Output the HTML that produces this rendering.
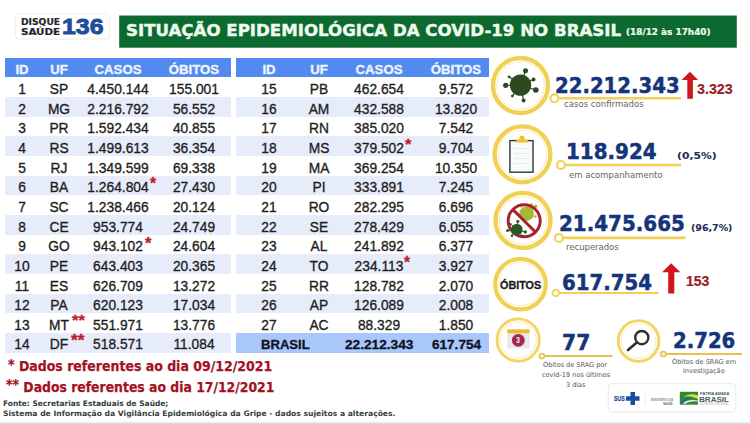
<!DOCTYPE html>
<html lang="pt-BR"><head><meta charset="utf-8"><title>Situação epidemiológica da COVID-19 no Brasil</title>
<style>
html,body{margin:0;padding:0;background:#fff;}
#w{position:relative;width:750px;height:424px;overflow:hidden;background:#fff;}
.b{position:absolute;}
.t{position:absolute;white-space:nowrap;line-height:1;}
svg{position:absolute;left:0;top:0;}
</style></head><body><div id="w">
<div class="b" style="left:5.4px;top:58.3px;width:225.80px;height:19.20px;background:#528af0"></div><div class="b" style="left:5.4px;top:97.15px;width:225.80px;height:19.65px;background:#e7ecfa"></div><div class="b" style="left:5.4px;top:136.45px;width:225.80px;height:19.65px;background:#e7ecfa"></div><div class="b" style="left:5.4px;top:175.75px;width:225.80px;height:19.65px;background:#e7ecfa"></div><div class="b" style="left:5.4px;top:215.05px;width:225.80px;height:19.65px;background:#e7ecfa"></div><div class="b" style="left:5.4px;top:254.35px;width:225.80px;height:19.65px;background:#e7ecfa"></div><div class="b" style="left:5.4px;top:293.65px;width:225.80px;height:19.65px;background:#e7ecfa"></div><div class="b" style="left:5.4px;top:332.95px;width:225.80px;height:19.65px;background:#e7ecfa"></div><div class="b" style="left:236.2px;top:58.3px;width:253.10px;height:19.20px;background:#528af0"></div><div class="b" style="left:236.2px;top:97.15px;width:253.10px;height:19.65px;background:#e7ecfa"></div><div class="b" style="left:236.2px;top:136.45px;width:253.10px;height:19.65px;background:#e7ecfa"></div><div class="b" style="left:236.2px;top:175.75px;width:253.10px;height:19.65px;background:#e7ecfa"></div><div class="b" style="left:236.2px;top:215.05px;width:253.10px;height:19.65px;background:#e7ecfa"></div><div class="b" style="left:236.2px;top:254.35px;width:253.10px;height:19.65px;background:#e7ecfa"></div><div class="b" style="left:236.2px;top:293.65px;width:253.10px;height:19.65px;background:#e7ecfa"></div><div class="b" style="left:236.2px;top:332.95px;width:253.10px;height:19.65px;background:#aac7fb"></div>
<svg width="750" height="424" viewBox="0 0 750 424"><rect x="119.2" y="15.5" width="617.6" height="32.2" fill="#0c6a30"/><rect x="15.3" y="13.9" width="94.4" height="25.2" rx="4" fill="#fff" stroke="#eee6e0" stroke-width="0.8"/><circle cx="520.5" cy="85.5" r="27.5" fill="#fff" stroke="#f2d055" stroke-width="4.4"/><circle cx="520.5" cy="85.5" r="23.699999999999996" fill="none" stroke="#f8eab0" stroke-width="0.9"/><line x1="554.4" y1="98.3" x2="681" y2="98.3" stroke="#f2d055" stroke-width="2.6"/><circle cx="554.4" cy="98.3" r="3.95" fill="#fff" stroke="#f2d055" stroke-width="2.1"/><circle cx="520.5" cy="85.1" r="10.7" fill="#2c4a1f"/><line x1="520.5" y1="85.1" x2="525.5" y2="70.7" stroke="#2c4a1f" stroke-width="1.2"/><circle cx="525.5" cy="70.7" r="2.5" fill="#2c4a1f"/><line x1="520.5" y1="85.1" x2="533.5" y2="79.6" stroke="#2c4a1f" stroke-width="1.2"/><circle cx="533.5" cy="79.6" r="2.0" fill="#2c4a1f"/><line x1="520.5" y1="85.1" x2="535.8" y2="90" stroke="#2c4a1f" stroke-width="1.2"/><circle cx="535.8" cy="90" r="2.8" fill="#2c4a1f"/><line x1="520.5" y1="85.1" x2="523.6" y2="100.4" stroke="#2c4a1f" stroke-width="1.2"/><circle cx="523.6" cy="100.4" r="2.0" fill="#2c4a1f"/><line x1="520.5" y1="85.1" x2="512.3" y2="96.1" stroke="#2c4a1f" stroke-width="1.2"/><circle cx="512.3" cy="96.1" r="1.4" fill="#2c4a1f"/><line x1="520.5" y1="85.1" x2="505.7" y2="85.3" stroke="#2c4a1f" stroke-width="1.2"/><circle cx="505.7" cy="85.3" r="2.6" fill="#2c4a1f"/><line x1="520.5" y1="85.1" x2="509" y2="76.8" stroke="#2c4a1f" stroke-width="1.2"/><circle cx="509" cy="76.8" r="1.4" fill="#2c4a1f"/><path d="M689.9 71.8 L698.1 80.0 L692.9 80.0 L692.9 98.8 L687.3 98.8 L687.3 80.0 L681.6 80.0 Z" fill="#d0151f"/><circle cx="522.5" cy="154.3" r="27.900000000000002" fill="#fff" stroke="#f2d055" stroke-width="4.4"/><circle cx="522.5" cy="154.3" r="24.1" fill="none" stroke="#f8eab0" stroke-width="0.9"/><line x1="560.9" y1="165.0" x2="681" y2="165.0" stroke="#f2d055" stroke-width="2.6"/><circle cx="560.9" cy="165.0" r="3.95" fill="#fff" stroke="#f2d055" stroke-width="2.1"/><rect x="509.9" y="140.6" width="23.1" height="31.6" fill="#f8fbf8" stroke="#2b3b31" stroke-width="1.4"/><line x1="514" y1="148.5" x2="529" y2="148.5" stroke="#e8eee8" stroke-width="1.2"/><line x1="514" y1="153.5" x2="529" y2="153.5" stroke="#e8eee8" stroke-width="1.2"/><line x1="514" y1="158.5" x2="529" y2="158.5" stroke="#e8eee8" stroke-width="1.2"/><line x1="514" y1="163.5" x2="529" y2="163.5" stroke="#e8eee8" stroke-width="1.2"/><path d="M515.6 142.6 L516.6 139.6 L527.4 139.6 L528.4 142.6 Z" fill="#f0c036"/><circle cx="522" cy="138.2" r="2.6" fill="#f0c036"/><circle cx="523" cy="220.4" r="27.5" fill="#fff" stroke="#f2d055" stroke-width="4.4"/><circle cx="523" cy="220.4" r="23.699999999999996" fill="none" stroke="#f8eab0" stroke-width="0.9"/><line x1="558.9" y1="237.9" x2="685.6" y2="237.9" stroke="#f2d055" stroke-width="2.6"/><circle cx="558.9" cy="237.9" r="3.95" fill="#fff" stroke="#f2d055" stroke-width="2.1"/><circle cx="526.6" cy="213.7" r="7.3" fill="#a6b83a"/><line x1="526.6" y1="213.7" x2="535.6" y2="206.3" stroke="#a6b83a" stroke-width="1"/><circle cx="535.6" cy="206.3" r="1.8" fill="#a6b83a"/><line x1="526.6" y1="213.7" x2="531.5" y2="204.6" stroke="#a6b83a" stroke-width="1"/><circle cx="531.5" cy="204.6" r="1.3" fill="#a6b83a"/><line x1="526.6" y1="213.7" x2="535.5" y2="216.5" stroke="#a6b83a" stroke-width="1"/><circle cx="535.5" cy="216.5" r="1.2" fill="#a6b83a"/><line x1="526.6" y1="213.7" x2="520.5" y2="206" stroke="#a6b83a" stroke-width="1"/><circle cx="520.5" cy="206" r="1.1" fill="#a6b83a"/><circle cx="524.2" cy="220.8" r="16" fill="none" stroke="#a8232d" stroke-width="3"/><line x1="512.7" y1="209.4" x2="535.6" y2="232.2" stroke="#a8232d" stroke-width="3"/><circle cx="516.8" cy="229.5" r="5.8" fill="#285826"/><line x1="516.8" y1="229.5" x2="517.9" y2="221.3" stroke="#285826" stroke-width="1"/><circle cx="517.9" cy="221.3" r="1.5" fill="#285826"/><line x1="516.8" y1="229.5" x2="525.2" y2="231.9" stroke="#285826" stroke-width="1"/><circle cx="525.2" cy="231.9" r="1.7" fill="#285826"/><line x1="516.8" y1="229.5" x2="507.6" y2="230.6" stroke="#285826" stroke-width="1"/><circle cx="507.6" cy="230.6" r="1.5" fill="#285826"/><line x1="516.8" y1="229.5" x2="512" y2="235.8" stroke="#285826" stroke-width="1"/><circle cx="512" cy="235.8" r="1.3" fill="#285826"/><line x1="516.8" y1="229.5" x2="510.5" y2="224.2" stroke="#285826" stroke-width="1"/><circle cx="510.5" cy="224.2" r="1.1" fill="#285826"/><line x1="516.8" y1="229.5" x2="522.5" y2="235.8" stroke="#285826" stroke-width="1"/><circle cx="522.5" cy="235.8" r="1.1" fill="#285826"/><circle cx="520.5" cy="284.1" r="25.299999999999997" fill="#fff" stroke="#f2d055" stroke-width="4.2"/><circle cx="520.5" cy="284.1" r="21.599999999999998" fill="none" stroke="#f8eab0" stroke-width="0.9"/><line x1="555.7" y1="292.9" x2="658.8" y2="292.9" stroke="#f2d055" stroke-width="2.0"/><circle cx="555.7" cy="292.9" r="3.3" fill="#fff" stroke="#f2d055" stroke-width="1.8"/><path d="M671.2 263.2 L680.3 272.2 L674.3 272.2 L674.3 293.4 L668.2 293.4 L668.2 272.2 L662.1 272.2 Z" fill="#d0151f"/><circle cx="518.2" cy="340.0" r="21.150000000000002" fill="#fff" stroke="#f2d566" stroke-width="2.9"/><circle cx="518.2" cy="340.0" r="18.1" fill="none" stroke="#f8eab0" stroke-width="0.9"/><line x1="542.0" y1="356.0" x2="612.5" y2="356.0" stroke="#e6c24a" stroke-width="2.0"/><circle cx="542.0" cy="356.0" r="2.6" fill="#faf3c8" stroke="#e6c24a" stroke-width="1.5"/><rect x="507.3" y="329.4" width="22.3" height="19" fill="#e8e8ef"/><rect x="507.3" y="329.4" width="22.3" height="3.9" fill="#f0b82c"/><circle cx="518.3" cy="340.3" r="6.4" fill="#a3284c"/><circle cx="638.6" cy="341.0" r="20.35" fill="#fff" stroke="#f2d566" stroke-width="2.9"/><circle cx="638.6" cy="341.0" r="17.3" fill="none" stroke="#f8eab0" stroke-width="0.9"/><line x1="663.3" y1="354.0" x2="742" y2="354.0" stroke="#e6c24a" stroke-width="2.0"/><circle cx="663.3" cy="354.0" r="2.6" fill="#faf3c8" stroke="#e6c24a" stroke-width="1.5"/><circle cx="641.8" cy="337.6" r="6.6" fill="#fff" stroke="#2f2f2f" stroke-width="2.4"/><line x1="636.8" y1="342.6" x2="628" y2="350" stroke="#2f2f2f" stroke-width="2.6" stroke-linecap="round"/><rect x="608.3" y="383.7" width="127.5" height="28.5" rx="4" fill="#fff" stroke="#e3e3e3" stroke-width="0.8"/><path d="M630.5 392 h4.5 v4.3 h4.5 v4.5 h-4.5 v4.3 h-4.5 v-4.3 h-4.6 v-4.5 h4.6 z" fill="#1c4d9e"/><line x1="645" y1="393" x2="645" y2="405" stroke="#ddd" stroke-width="0.6"/><rect x="679.8" y="391.8" width="18.2" height="12.9" fill="#2e8b35"/><path d="M683 397 Q690 392.5 698 395.5 L698 399 Q690 395 683 397 Z" fill="#e8d83a"/><path d="M681 402.5 Q687 396 694 397.5 Q688 397.5 683 403 Z" fill="#2a5aa8"/><path d="M683 403.2 Q689 398.5 698 400.5 L698 401.6 Q690 400 684.5 404 Z" fill="#f4f4f4"/><defs><linearGradient id="sh" x1="0" y1="0" x2="0" y2="1"><stop offset="0" stop-color="#fff" stop-opacity="0"/><stop offset="1" stop-color="#cdcdcd"/></linearGradient></defs><rect x="0" y="420.3" width="750" height="3.7" fill="url(#sh)"/></svg>
<div class="t" style="top:62.60px;font-size:13.6px;font-family:'Liberation Sans', sans-serif;font-weight:bold;color:#eef4fe;left:-128.50px;width:300px;text-align:center;transform:scaleX(0.97);-webkit-text-stroke:0.35px #eef4fe;">ID</div>
<div class="t" style="top:62.60px;font-size:13.6px;font-family:'Liberation Sans', sans-serif;font-weight:bold;color:#eef4fe;left:-90.70px;width:300px;text-align:center;transform:scaleX(0.97);-webkit-text-stroke:0.35px #eef4fe;">UF</div>
<div class="t" style="top:62.60px;font-size:13.6px;font-family:'Liberation Sans', sans-serif;font-weight:bold;color:#eef4fe;left:-32.30px;width:300px;text-align:center;transform:scaleX(0.97);-webkit-text-stroke:0.35px #eef4fe;">CASOS</div>
<div class="t" style="top:62.60px;font-size:13.6px;font-family:'Liberation Sans', sans-serif;font-weight:bold;color:#eef4fe;left:44.00px;width:300px;text-align:center;transform:scaleX(0.97);-webkit-text-stroke:0.35px #eef4fe;">ÓBITOS</div>
<div class="t" style="top:81.00px;font-size:15.3px;font-family:'Liberation Sans', sans-serif;font-weight:normal;color:#1e1e1e;left:-128.50px;width:300px;text-align:center;transform:scaleX(0.9);-webkit-text-stroke:0.35px #1e1e1e;">1</div>
<div class="t" style="top:81.00px;font-size:15.3px;font-family:'Liberation Sans', sans-serif;font-weight:normal;color:#1e1e1e;left:-90.70px;width:300px;text-align:center;transform:scaleX(0.9);-webkit-text-stroke:0.35px #1e1e1e;">SP</div>
<div class="t" style="top:81.00px;font-size:15.3px;font-family:'Liberation Sans', sans-serif;font-weight:normal;color:#1e1e1e;left:-32.30px;width:300px;text-align:center;transform:scaleX(0.9);-webkit-text-stroke:0.35px #1e1e1e;">4.450.144</div>
<div class="t" style="top:81.00px;font-size:15.3px;font-family:'Liberation Sans', sans-serif;font-weight:normal;color:#1e1e1e;left:44.00px;width:300px;text-align:center;transform:scaleX(0.9);-webkit-text-stroke:0.35px #1e1e1e;">155.001</div>
<div class="t" style="top:100.65px;font-size:15.3px;font-family:'Liberation Sans', sans-serif;font-weight:normal;color:#1e1e1e;left:-128.50px;width:300px;text-align:center;transform:scaleX(0.9);-webkit-text-stroke:0.35px #1e1e1e;">2</div>
<div class="t" style="top:100.65px;font-size:15.3px;font-family:'Liberation Sans', sans-serif;font-weight:normal;color:#1e1e1e;left:-90.70px;width:300px;text-align:center;transform:scaleX(0.9);-webkit-text-stroke:0.35px #1e1e1e;">MG</div>
<div class="t" style="top:100.65px;font-size:15.3px;font-family:'Liberation Sans', sans-serif;font-weight:normal;color:#1e1e1e;left:-32.30px;width:300px;text-align:center;transform:scaleX(0.9);-webkit-text-stroke:0.35px #1e1e1e;">2.216.792</div>
<div class="t" style="top:100.65px;font-size:15.3px;font-family:'Liberation Sans', sans-serif;font-weight:normal;color:#1e1e1e;left:44.00px;width:300px;text-align:center;transform:scaleX(0.9);-webkit-text-stroke:0.35px #1e1e1e;">56.552</div>
<div class="t" style="top:120.30px;font-size:15.3px;font-family:'Liberation Sans', sans-serif;font-weight:normal;color:#1e1e1e;left:-128.50px;width:300px;text-align:center;transform:scaleX(0.9);-webkit-text-stroke:0.35px #1e1e1e;">3</div>
<div class="t" style="top:120.30px;font-size:15.3px;font-family:'Liberation Sans', sans-serif;font-weight:normal;color:#1e1e1e;left:-90.70px;width:300px;text-align:center;transform:scaleX(0.9);-webkit-text-stroke:0.35px #1e1e1e;">PR</div>
<div class="t" style="top:120.30px;font-size:15.3px;font-family:'Liberation Sans', sans-serif;font-weight:normal;color:#1e1e1e;left:-32.30px;width:300px;text-align:center;transform:scaleX(0.9);-webkit-text-stroke:0.35px #1e1e1e;">1.592.434</div>
<div class="t" style="top:120.30px;font-size:15.3px;font-family:'Liberation Sans', sans-serif;font-weight:normal;color:#1e1e1e;left:44.00px;width:300px;text-align:center;transform:scaleX(0.9);-webkit-text-stroke:0.35px #1e1e1e;">40.855</div>
<div class="t" style="top:139.95px;font-size:15.3px;font-family:'Liberation Sans', sans-serif;font-weight:normal;color:#1e1e1e;left:-128.50px;width:300px;text-align:center;transform:scaleX(0.9);-webkit-text-stroke:0.35px #1e1e1e;">4</div>
<div class="t" style="top:139.95px;font-size:15.3px;font-family:'Liberation Sans', sans-serif;font-weight:normal;color:#1e1e1e;left:-90.70px;width:300px;text-align:center;transform:scaleX(0.9);-webkit-text-stroke:0.35px #1e1e1e;">RS</div>
<div class="t" style="top:139.95px;font-size:15.3px;font-family:'Liberation Sans', sans-serif;font-weight:normal;color:#1e1e1e;left:-32.30px;width:300px;text-align:center;transform:scaleX(0.9);-webkit-text-stroke:0.35px #1e1e1e;">1.499.613</div>
<div class="t" style="top:139.95px;font-size:15.3px;font-family:'Liberation Sans', sans-serif;font-weight:normal;color:#1e1e1e;left:44.00px;width:300px;text-align:center;transform:scaleX(0.9);-webkit-text-stroke:0.35px #1e1e1e;">36.354</div>
<div class="t" style="top:159.60px;font-size:15.3px;font-family:'Liberation Sans', sans-serif;font-weight:normal;color:#1e1e1e;left:-128.50px;width:300px;text-align:center;transform:scaleX(0.9);-webkit-text-stroke:0.35px #1e1e1e;">5</div>
<div class="t" style="top:159.60px;font-size:15.3px;font-family:'Liberation Sans', sans-serif;font-weight:normal;color:#1e1e1e;left:-90.70px;width:300px;text-align:center;transform:scaleX(0.9);-webkit-text-stroke:0.35px #1e1e1e;">RJ</div>
<div class="t" style="top:159.60px;font-size:15.3px;font-family:'Liberation Sans', sans-serif;font-weight:normal;color:#1e1e1e;left:-32.30px;width:300px;text-align:center;transform:scaleX(0.9);-webkit-text-stroke:0.35px #1e1e1e;">1.349.599</div>
<div class="t" style="top:159.60px;font-size:15.3px;font-family:'Liberation Sans', sans-serif;font-weight:normal;color:#1e1e1e;left:44.00px;width:300px;text-align:center;transform:scaleX(0.9);-webkit-text-stroke:0.35px #1e1e1e;">69.338</div>
<div class="t" style="top:179.25px;font-size:15.3px;font-family:'Liberation Sans', sans-serif;font-weight:normal;color:#1e1e1e;left:-128.50px;width:300px;text-align:center;transform:scaleX(0.9);-webkit-text-stroke:0.35px #1e1e1e;">6</div>
<div class="t" style="top:179.25px;font-size:15.3px;font-family:'Liberation Sans', sans-serif;font-weight:normal;color:#1e1e1e;left:-90.70px;width:300px;text-align:center;transform:scaleX(0.9);-webkit-text-stroke:0.35px #1e1e1e;">BA</div>
<div class="t" style="top:179.25px;font-size:15.3px;font-family:'Liberation Sans', sans-serif;font-weight:normal;color:#1e1e1e;left:-32.30px;width:300px;text-align:center;transform:scaleX(0.9);-webkit-text-stroke:0.35px #1e1e1e;">1.264.804</div>
<div class="t" style="top:179.25px;font-size:15.3px;font-family:'Liberation Sans', sans-serif;font-weight:normal;color:#1e1e1e;left:44.00px;width:300px;text-align:center;transform:scaleX(0.9);-webkit-text-stroke:0.35px #1e1e1e;">27.430</div>
<div class="t" style="top:198.90px;font-size:15.3px;font-family:'Liberation Sans', sans-serif;font-weight:normal;color:#1e1e1e;left:-128.50px;width:300px;text-align:center;transform:scaleX(0.9);-webkit-text-stroke:0.35px #1e1e1e;">7</div>
<div class="t" style="top:198.90px;font-size:15.3px;font-family:'Liberation Sans', sans-serif;font-weight:normal;color:#1e1e1e;left:-90.70px;width:300px;text-align:center;transform:scaleX(0.9);-webkit-text-stroke:0.35px #1e1e1e;">SC</div>
<div class="t" style="top:198.90px;font-size:15.3px;font-family:'Liberation Sans', sans-serif;font-weight:normal;color:#1e1e1e;left:-32.30px;width:300px;text-align:center;transform:scaleX(0.9);-webkit-text-stroke:0.35px #1e1e1e;">1.238.466</div>
<div class="t" style="top:198.90px;font-size:15.3px;font-family:'Liberation Sans', sans-serif;font-weight:normal;color:#1e1e1e;left:44.00px;width:300px;text-align:center;transform:scaleX(0.9);-webkit-text-stroke:0.35px #1e1e1e;">20.124</div>
<div class="t" style="top:218.55px;font-size:15.3px;font-family:'Liberation Sans', sans-serif;font-weight:normal;color:#1e1e1e;left:-128.50px;width:300px;text-align:center;transform:scaleX(0.9);-webkit-text-stroke:0.35px #1e1e1e;">8</div>
<div class="t" style="top:218.55px;font-size:15.3px;font-family:'Liberation Sans', sans-serif;font-weight:normal;color:#1e1e1e;left:-90.70px;width:300px;text-align:center;transform:scaleX(0.9);-webkit-text-stroke:0.35px #1e1e1e;">CE</div>
<div class="t" style="top:218.55px;font-size:15.3px;font-family:'Liberation Sans', sans-serif;font-weight:normal;color:#1e1e1e;left:-32.30px;width:300px;text-align:center;transform:scaleX(0.9);-webkit-text-stroke:0.35px #1e1e1e;">953.774</div>
<div class="t" style="top:218.55px;font-size:15.3px;font-family:'Liberation Sans', sans-serif;font-weight:normal;color:#1e1e1e;left:44.00px;width:300px;text-align:center;transform:scaleX(0.9);-webkit-text-stroke:0.35px #1e1e1e;">24.749</div>
<div class="t" style="top:238.20px;font-size:15.3px;font-family:'Liberation Sans', sans-serif;font-weight:normal;color:#1e1e1e;left:-128.50px;width:300px;text-align:center;transform:scaleX(0.9);-webkit-text-stroke:0.35px #1e1e1e;">9</div>
<div class="t" style="top:238.20px;font-size:15.3px;font-family:'Liberation Sans', sans-serif;font-weight:normal;color:#1e1e1e;left:-90.70px;width:300px;text-align:center;transform:scaleX(0.9);-webkit-text-stroke:0.35px #1e1e1e;">GO</div>
<div class="t" style="top:238.20px;font-size:15.3px;font-family:'Liberation Sans', sans-serif;font-weight:normal;color:#1e1e1e;left:-32.30px;width:300px;text-align:center;transform:scaleX(0.9);-webkit-text-stroke:0.35px #1e1e1e;">943.102</div>
<div class="t" style="top:238.20px;font-size:15.3px;font-family:'Liberation Sans', sans-serif;font-weight:normal;color:#1e1e1e;left:44.00px;width:300px;text-align:center;transform:scaleX(0.9);-webkit-text-stroke:0.35px #1e1e1e;">24.604</div>
<div class="t" style="top:257.85px;font-size:15.3px;font-family:'Liberation Sans', sans-serif;font-weight:normal;color:#1e1e1e;left:-128.50px;width:300px;text-align:center;transform:scaleX(0.9);-webkit-text-stroke:0.35px #1e1e1e;">10</div>
<div class="t" style="top:257.85px;font-size:15.3px;font-family:'Liberation Sans', sans-serif;font-weight:normal;color:#1e1e1e;left:-90.70px;width:300px;text-align:center;transform:scaleX(0.9);-webkit-text-stroke:0.35px #1e1e1e;">PE</div>
<div class="t" style="top:257.85px;font-size:15.3px;font-family:'Liberation Sans', sans-serif;font-weight:normal;color:#1e1e1e;left:-32.30px;width:300px;text-align:center;transform:scaleX(0.9);-webkit-text-stroke:0.35px #1e1e1e;">643.403</div>
<div class="t" style="top:257.85px;font-size:15.3px;font-family:'Liberation Sans', sans-serif;font-weight:normal;color:#1e1e1e;left:44.00px;width:300px;text-align:center;transform:scaleX(0.9);-webkit-text-stroke:0.35px #1e1e1e;">20.365</div>
<div class="t" style="top:277.50px;font-size:15.3px;font-family:'Liberation Sans', sans-serif;font-weight:normal;color:#1e1e1e;left:-128.50px;width:300px;text-align:center;transform:scaleX(0.9);-webkit-text-stroke:0.35px #1e1e1e;">11</div>
<div class="t" style="top:277.50px;font-size:15.3px;font-family:'Liberation Sans', sans-serif;font-weight:normal;color:#1e1e1e;left:-90.70px;width:300px;text-align:center;transform:scaleX(0.9);-webkit-text-stroke:0.35px #1e1e1e;">ES</div>
<div class="t" style="top:277.50px;font-size:15.3px;font-family:'Liberation Sans', sans-serif;font-weight:normal;color:#1e1e1e;left:-32.30px;width:300px;text-align:center;transform:scaleX(0.9);-webkit-text-stroke:0.35px #1e1e1e;">626.709</div>
<div class="t" style="top:277.50px;font-size:15.3px;font-family:'Liberation Sans', sans-serif;font-weight:normal;color:#1e1e1e;left:44.00px;width:300px;text-align:center;transform:scaleX(0.9);-webkit-text-stroke:0.35px #1e1e1e;">13.272</div>
<div class="t" style="top:297.15px;font-size:15.3px;font-family:'Liberation Sans', sans-serif;font-weight:normal;color:#1e1e1e;left:-128.50px;width:300px;text-align:center;transform:scaleX(0.9);-webkit-text-stroke:0.35px #1e1e1e;">12</div>
<div class="t" style="top:297.15px;font-size:15.3px;font-family:'Liberation Sans', sans-serif;font-weight:normal;color:#1e1e1e;left:-90.70px;width:300px;text-align:center;transform:scaleX(0.9);-webkit-text-stroke:0.35px #1e1e1e;">PA</div>
<div class="t" style="top:297.15px;font-size:15.3px;font-family:'Liberation Sans', sans-serif;font-weight:normal;color:#1e1e1e;left:-32.30px;width:300px;text-align:center;transform:scaleX(0.9);-webkit-text-stroke:0.35px #1e1e1e;">620.123</div>
<div class="t" style="top:297.15px;font-size:15.3px;font-family:'Liberation Sans', sans-serif;font-weight:normal;color:#1e1e1e;left:44.00px;width:300px;text-align:center;transform:scaleX(0.9);-webkit-text-stroke:0.35px #1e1e1e;">17.034</div>
<div class="t" style="top:316.80px;font-size:15.3px;font-family:'Liberation Sans', sans-serif;font-weight:normal;color:#1e1e1e;left:-128.50px;width:300px;text-align:center;transform:scaleX(0.9);-webkit-text-stroke:0.35px #1e1e1e;">13</div>
<div class="t" style="top:316.80px;font-size:15.3px;font-family:'Liberation Sans', sans-serif;font-weight:normal;color:#1e1e1e;left:-90.70px;width:300px;text-align:center;transform:scaleX(0.9);-webkit-text-stroke:0.35px #1e1e1e;">MT</div>
<div class="t" style="top:316.80px;font-size:15.3px;font-family:'Liberation Sans', sans-serif;font-weight:normal;color:#1e1e1e;left:-32.30px;width:300px;text-align:center;transform:scaleX(0.9);-webkit-text-stroke:0.35px #1e1e1e;">551.971</div>
<div class="t" style="top:316.80px;font-size:15.3px;font-family:'Liberation Sans', sans-serif;font-weight:normal;color:#1e1e1e;left:44.00px;width:300px;text-align:center;transform:scaleX(0.9);-webkit-text-stroke:0.35px #1e1e1e;">13.776</div>
<div class="t" style="top:336.45px;font-size:15.3px;font-family:'Liberation Sans', sans-serif;font-weight:normal;color:#1e1e1e;left:-128.50px;width:300px;text-align:center;transform:scaleX(0.9);-webkit-text-stroke:0.35px #1e1e1e;">14</div>
<div class="t" style="top:336.45px;font-size:15.3px;font-family:'Liberation Sans', sans-serif;font-weight:normal;color:#1e1e1e;left:-90.70px;width:300px;text-align:center;transform:scaleX(0.9);-webkit-text-stroke:0.35px #1e1e1e;">DF</div>
<div class="t" style="top:336.45px;font-size:15.3px;font-family:'Liberation Sans', sans-serif;font-weight:normal;color:#1e1e1e;left:-32.30px;width:300px;text-align:center;transform:scaleX(0.9);-webkit-text-stroke:0.35px #1e1e1e;">518.571</div>
<div class="t" style="top:336.45px;font-size:15.3px;font-family:'Liberation Sans', sans-serif;font-weight:normal;color:#1e1e1e;left:44.00px;width:300px;text-align:center;transform:scaleX(0.9);-webkit-text-stroke:0.35px #1e1e1e;">11.084</div>
<div class="t" style="top:62.60px;font-size:13.6px;font-family:'Liberation Sans', sans-serif;font-weight:bold;color:#eef4fe;left:119.00px;width:300px;text-align:center;transform:scaleX(0.97);-webkit-text-stroke:0.35px #eef4fe;">ID</div>
<div class="t" style="top:62.60px;font-size:13.6px;font-family:'Liberation Sans', sans-serif;font-weight:bold;color:#eef4fe;left:168.80px;width:300px;text-align:center;transform:scaleX(0.97);-webkit-text-stroke:0.35px #eef4fe;">UF</div>
<div class="t" style="top:62.60px;font-size:13.6px;font-family:'Liberation Sans', sans-serif;font-weight:bold;color:#eef4fe;left:229.00px;width:300px;text-align:center;transform:scaleX(0.97);-webkit-text-stroke:0.35px #eef4fe;">CASOS</div>
<div class="t" style="top:62.60px;font-size:13.6px;font-family:'Liberation Sans', sans-serif;font-weight:bold;color:#eef4fe;left:306.00px;width:300px;text-align:center;transform:scaleX(0.97);-webkit-text-stroke:0.35px #eef4fe;">ÓBITOS</div>
<div class="t" style="top:81.00px;font-size:15.3px;font-family:'Liberation Sans', sans-serif;font-weight:normal;color:#1e1e1e;left:119.00px;width:300px;text-align:center;transform:scaleX(0.9);-webkit-text-stroke:0.35px #1e1e1e;">15</div>
<div class="t" style="top:81.00px;font-size:15.3px;font-family:'Liberation Sans', sans-serif;font-weight:normal;color:#1e1e1e;left:168.80px;width:300px;text-align:center;transform:scaleX(0.9);-webkit-text-stroke:0.35px #1e1e1e;">PB</div>
<div class="t" style="top:81.00px;font-size:15.3px;font-family:'Liberation Sans', sans-serif;font-weight:normal;color:#1e1e1e;left:229.00px;width:300px;text-align:center;transform:scaleX(0.9);-webkit-text-stroke:0.35px #1e1e1e;">462.654</div>
<div class="t" style="top:81.00px;font-size:15.3px;font-family:'Liberation Sans', sans-serif;font-weight:normal;color:#1e1e1e;left:306.00px;width:300px;text-align:center;transform:scaleX(0.9);-webkit-text-stroke:0.35px #1e1e1e;">9.572</div>
<div class="t" style="top:100.65px;font-size:15.3px;font-family:'Liberation Sans', sans-serif;font-weight:normal;color:#1e1e1e;left:119.00px;width:300px;text-align:center;transform:scaleX(0.9);-webkit-text-stroke:0.35px #1e1e1e;">16</div>
<div class="t" style="top:100.65px;font-size:15.3px;font-family:'Liberation Sans', sans-serif;font-weight:normal;color:#1e1e1e;left:168.80px;width:300px;text-align:center;transform:scaleX(0.9);-webkit-text-stroke:0.35px #1e1e1e;">AM</div>
<div class="t" style="top:100.65px;font-size:15.3px;font-family:'Liberation Sans', sans-serif;font-weight:normal;color:#1e1e1e;left:229.00px;width:300px;text-align:center;transform:scaleX(0.9);-webkit-text-stroke:0.35px #1e1e1e;">432.588</div>
<div class="t" style="top:100.65px;font-size:15.3px;font-family:'Liberation Sans', sans-serif;font-weight:normal;color:#1e1e1e;left:306.00px;width:300px;text-align:center;transform:scaleX(0.9);-webkit-text-stroke:0.35px #1e1e1e;">13.820</div>
<div class="t" style="top:120.30px;font-size:15.3px;font-family:'Liberation Sans', sans-serif;font-weight:normal;color:#1e1e1e;left:119.00px;width:300px;text-align:center;transform:scaleX(0.9);-webkit-text-stroke:0.35px #1e1e1e;">17</div>
<div class="t" style="top:120.30px;font-size:15.3px;font-family:'Liberation Sans', sans-serif;font-weight:normal;color:#1e1e1e;left:168.80px;width:300px;text-align:center;transform:scaleX(0.9);-webkit-text-stroke:0.35px #1e1e1e;">RN</div>
<div class="t" style="top:120.30px;font-size:15.3px;font-family:'Liberation Sans', sans-serif;font-weight:normal;color:#1e1e1e;left:229.00px;width:300px;text-align:center;transform:scaleX(0.9);-webkit-text-stroke:0.35px #1e1e1e;">385.020</div>
<div class="t" style="top:120.30px;font-size:15.3px;font-family:'Liberation Sans', sans-serif;font-weight:normal;color:#1e1e1e;left:306.00px;width:300px;text-align:center;transform:scaleX(0.9);-webkit-text-stroke:0.35px #1e1e1e;">7.542</div>
<div class="t" style="top:139.95px;font-size:15.3px;font-family:'Liberation Sans', sans-serif;font-weight:normal;color:#1e1e1e;left:119.00px;width:300px;text-align:center;transform:scaleX(0.9);-webkit-text-stroke:0.35px #1e1e1e;">18</div>
<div class="t" style="top:139.95px;font-size:15.3px;font-family:'Liberation Sans', sans-serif;font-weight:normal;color:#1e1e1e;left:168.80px;width:300px;text-align:center;transform:scaleX(0.9);-webkit-text-stroke:0.35px #1e1e1e;">MS</div>
<div class="t" style="top:139.95px;font-size:15.3px;font-family:'Liberation Sans', sans-serif;font-weight:normal;color:#1e1e1e;left:229.00px;width:300px;text-align:center;transform:scaleX(0.9);-webkit-text-stroke:0.35px #1e1e1e;">379.502</div>
<div class="t" style="top:139.95px;font-size:15.3px;font-family:'Liberation Sans', sans-serif;font-weight:normal;color:#1e1e1e;left:306.00px;width:300px;text-align:center;transform:scaleX(0.9);-webkit-text-stroke:0.35px #1e1e1e;">9.704</div>
<div class="t" style="top:159.60px;font-size:15.3px;font-family:'Liberation Sans', sans-serif;font-weight:normal;color:#1e1e1e;left:119.00px;width:300px;text-align:center;transform:scaleX(0.9);-webkit-text-stroke:0.35px #1e1e1e;">19</div>
<div class="t" style="top:159.60px;font-size:15.3px;font-family:'Liberation Sans', sans-serif;font-weight:normal;color:#1e1e1e;left:168.80px;width:300px;text-align:center;transform:scaleX(0.9);-webkit-text-stroke:0.35px #1e1e1e;">MA</div>
<div class="t" style="top:159.60px;font-size:15.3px;font-family:'Liberation Sans', sans-serif;font-weight:normal;color:#1e1e1e;left:229.00px;width:300px;text-align:center;transform:scaleX(0.9);-webkit-text-stroke:0.35px #1e1e1e;">369.254</div>
<div class="t" style="top:159.60px;font-size:15.3px;font-family:'Liberation Sans', sans-serif;font-weight:normal;color:#1e1e1e;left:306.00px;width:300px;text-align:center;transform:scaleX(0.9);-webkit-text-stroke:0.35px #1e1e1e;">10.350</div>
<div class="t" style="top:179.25px;font-size:15.3px;font-family:'Liberation Sans', sans-serif;font-weight:normal;color:#1e1e1e;left:119.00px;width:300px;text-align:center;transform:scaleX(0.9);-webkit-text-stroke:0.35px #1e1e1e;">20</div>
<div class="t" style="top:179.25px;font-size:15.3px;font-family:'Liberation Sans', sans-serif;font-weight:normal;color:#1e1e1e;left:168.80px;width:300px;text-align:center;transform:scaleX(0.9);-webkit-text-stroke:0.35px #1e1e1e;">PI</div>
<div class="t" style="top:179.25px;font-size:15.3px;font-family:'Liberation Sans', sans-serif;font-weight:normal;color:#1e1e1e;left:229.00px;width:300px;text-align:center;transform:scaleX(0.9);-webkit-text-stroke:0.35px #1e1e1e;">333.891</div>
<div class="t" style="top:179.25px;font-size:15.3px;font-family:'Liberation Sans', sans-serif;font-weight:normal;color:#1e1e1e;left:306.00px;width:300px;text-align:center;transform:scaleX(0.9);-webkit-text-stroke:0.35px #1e1e1e;">7.245</div>
<div class="t" style="top:198.90px;font-size:15.3px;font-family:'Liberation Sans', sans-serif;font-weight:normal;color:#1e1e1e;left:119.00px;width:300px;text-align:center;transform:scaleX(0.9);-webkit-text-stroke:0.35px #1e1e1e;">21</div>
<div class="t" style="top:198.90px;font-size:15.3px;font-family:'Liberation Sans', sans-serif;font-weight:normal;color:#1e1e1e;left:168.80px;width:300px;text-align:center;transform:scaleX(0.9);-webkit-text-stroke:0.35px #1e1e1e;">RO</div>
<div class="t" style="top:198.90px;font-size:15.3px;font-family:'Liberation Sans', sans-serif;font-weight:normal;color:#1e1e1e;left:229.00px;width:300px;text-align:center;transform:scaleX(0.9);-webkit-text-stroke:0.35px #1e1e1e;">282.295</div>
<div class="t" style="top:198.90px;font-size:15.3px;font-family:'Liberation Sans', sans-serif;font-weight:normal;color:#1e1e1e;left:306.00px;width:300px;text-align:center;transform:scaleX(0.9);-webkit-text-stroke:0.35px #1e1e1e;">6.696</div>
<div class="t" style="top:218.55px;font-size:15.3px;font-family:'Liberation Sans', sans-serif;font-weight:normal;color:#1e1e1e;left:119.00px;width:300px;text-align:center;transform:scaleX(0.9);-webkit-text-stroke:0.35px #1e1e1e;">22</div>
<div class="t" style="top:218.55px;font-size:15.3px;font-family:'Liberation Sans', sans-serif;font-weight:normal;color:#1e1e1e;left:168.80px;width:300px;text-align:center;transform:scaleX(0.9);-webkit-text-stroke:0.35px #1e1e1e;">SE</div>
<div class="t" style="top:218.55px;font-size:15.3px;font-family:'Liberation Sans', sans-serif;font-weight:normal;color:#1e1e1e;left:229.00px;width:300px;text-align:center;transform:scaleX(0.9);-webkit-text-stroke:0.35px #1e1e1e;">278.429</div>
<div class="t" style="top:218.55px;font-size:15.3px;font-family:'Liberation Sans', sans-serif;font-weight:normal;color:#1e1e1e;left:306.00px;width:300px;text-align:center;transform:scaleX(0.9);-webkit-text-stroke:0.35px #1e1e1e;">6.055</div>
<div class="t" style="top:238.20px;font-size:15.3px;font-family:'Liberation Sans', sans-serif;font-weight:normal;color:#1e1e1e;left:119.00px;width:300px;text-align:center;transform:scaleX(0.9);-webkit-text-stroke:0.35px #1e1e1e;">23</div>
<div class="t" style="top:238.20px;font-size:15.3px;font-family:'Liberation Sans', sans-serif;font-weight:normal;color:#1e1e1e;left:168.80px;width:300px;text-align:center;transform:scaleX(0.9);-webkit-text-stroke:0.35px #1e1e1e;">AL</div>
<div class="t" style="top:238.20px;font-size:15.3px;font-family:'Liberation Sans', sans-serif;font-weight:normal;color:#1e1e1e;left:229.00px;width:300px;text-align:center;transform:scaleX(0.9);-webkit-text-stroke:0.35px #1e1e1e;">241.892</div>
<div class="t" style="top:238.20px;font-size:15.3px;font-family:'Liberation Sans', sans-serif;font-weight:normal;color:#1e1e1e;left:306.00px;width:300px;text-align:center;transform:scaleX(0.9);-webkit-text-stroke:0.35px #1e1e1e;">6.377</div>
<div class="t" style="top:257.85px;font-size:15.3px;font-family:'Liberation Sans', sans-serif;font-weight:normal;color:#1e1e1e;left:119.00px;width:300px;text-align:center;transform:scaleX(0.9);-webkit-text-stroke:0.35px #1e1e1e;">24</div>
<div class="t" style="top:257.85px;font-size:15.3px;font-family:'Liberation Sans', sans-serif;font-weight:normal;color:#1e1e1e;left:168.80px;width:300px;text-align:center;transform:scaleX(0.9);-webkit-text-stroke:0.35px #1e1e1e;">TO</div>
<div class="t" style="top:257.85px;font-size:15.3px;font-family:'Liberation Sans', sans-serif;font-weight:normal;color:#1e1e1e;left:229.00px;width:300px;text-align:center;transform:scaleX(0.9);-webkit-text-stroke:0.35px #1e1e1e;">234.113</div>
<div class="t" style="top:257.85px;font-size:15.3px;font-family:'Liberation Sans', sans-serif;font-weight:normal;color:#1e1e1e;left:306.00px;width:300px;text-align:center;transform:scaleX(0.9);-webkit-text-stroke:0.35px #1e1e1e;">3.927</div>
<div class="t" style="top:277.50px;font-size:15.3px;font-family:'Liberation Sans', sans-serif;font-weight:normal;color:#1e1e1e;left:119.00px;width:300px;text-align:center;transform:scaleX(0.9);-webkit-text-stroke:0.35px #1e1e1e;">25</div>
<div class="t" style="top:277.50px;font-size:15.3px;font-family:'Liberation Sans', sans-serif;font-weight:normal;color:#1e1e1e;left:168.80px;width:300px;text-align:center;transform:scaleX(0.9);-webkit-text-stroke:0.35px #1e1e1e;">RR</div>
<div class="t" style="top:277.50px;font-size:15.3px;font-family:'Liberation Sans', sans-serif;font-weight:normal;color:#1e1e1e;left:229.00px;width:300px;text-align:center;transform:scaleX(0.9);-webkit-text-stroke:0.35px #1e1e1e;">128.782</div>
<div class="t" style="top:277.50px;font-size:15.3px;font-family:'Liberation Sans', sans-serif;font-weight:normal;color:#1e1e1e;left:306.00px;width:300px;text-align:center;transform:scaleX(0.9);-webkit-text-stroke:0.35px #1e1e1e;">2.070</div>
<div class="t" style="top:297.15px;font-size:15.3px;font-family:'Liberation Sans', sans-serif;font-weight:normal;color:#1e1e1e;left:119.00px;width:300px;text-align:center;transform:scaleX(0.9);-webkit-text-stroke:0.35px #1e1e1e;">26</div>
<div class="t" style="top:297.15px;font-size:15.3px;font-family:'Liberation Sans', sans-serif;font-weight:normal;color:#1e1e1e;left:168.80px;width:300px;text-align:center;transform:scaleX(0.9);-webkit-text-stroke:0.35px #1e1e1e;">AP</div>
<div class="t" style="top:297.15px;font-size:15.3px;font-family:'Liberation Sans', sans-serif;font-weight:normal;color:#1e1e1e;left:229.00px;width:300px;text-align:center;transform:scaleX(0.9);-webkit-text-stroke:0.35px #1e1e1e;">126.089</div>
<div class="t" style="top:297.15px;font-size:15.3px;font-family:'Liberation Sans', sans-serif;font-weight:normal;color:#1e1e1e;left:306.00px;width:300px;text-align:center;transform:scaleX(0.9);-webkit-text-stroke:0.35px #1e1e1e;">2.008</div>
<div class="t" style="top:316.80px;font-size:15.3px;font-family:'Liberation Sans', sans-serif;font-weight:normal;color:#1e1e1e;left:119.00px;width:300px;text-align:center;transform:scaleX(0.9);-webkit-text-stroke:0.35px #1e1e1e;">27</div>
<div class="t" style="top:316.80px;font-size:15.3px;font-family:'Liberation Sans', sans-serif;font-weight:normal;color:#1e1e1e;left:168.80px;width:300px;text-align:center;transform:scaleX(0.9);-webkit-text-stroke:0.35px #1e1e1e;">AC</div>
<div class="t" style="top:316.80px;font-size:15.3px;font-family:'Liberation Sans', sans-serif;font-weight:normal;color:#1e1e1e;left:229.00px;width:300px;text-align:center;transform:scaleX(0.9);-webkit-text-stroke:0.35px #1e1e1e;">88.329</div>
<div class="t" style="top:316.80px;font-size:15.3px;font-family:'Liberation Sans', sans-serif;font-weight:normal;color:#1e1e1e;left:306.00px;width:300px;text-align:center;transform:scaleX(0.9);-webkit-text-stroke:0.35px #1e1e1e;">1.850</div>
<div class="t" style="left:149.85px;top:174.72px;font-size:16.38px;font-family:'Liberation Sans', sans-serif;font-weight:bold;color:#c0192e;transform:scaleX(0.9531);transform-origin:0 50%;-webkit-text-stroke:0.3px #c0192e;">*</div>
<div class="t" style="left:144.55px;top:234.84px;font-size:17.41px;font-family:'Liberation Sans', sans-serif;font-weight:bold;color:#c0192e;transform:scaleX(0.9559);transform-origin:0 50%;-webkit-text-stroke:0.3px #c0192e;">*</div>
<div class="t" style="left:405.35px;top:136.00px;font-size:15.36px;font-family:'Liberation Sans', sans-serif;font-weight:bold;color:#c0192e;transform:scaleX(1.0667);transform-origin:0 50%;-webkit-text-stroke:0.3px #c0192e;">*</div>
<div class="t" style="left:403.85px;top:254.76px;font-size:15.87px;font-family:'Liberation Sans', sans-serif;font-weight:bold;color:#c0192e;transform:scaleX(0.9677);transform-origin:0 50%;-webkit-text-stroke:0.3px #c0192e;">*</div>
<div class="t" style="left:71.95px;top:311.82px;font-size:15.10px;font-family:'Liberation Sans', sans-serif;font-weight:bold;color:#c0192e;transform:scaleX(1.1038);transform-origin:0 50%;-webkit-text-stroke:0.3px #c0192e;">**</div>
<div class="t" style="left:70.95px;top:332.76px;font-size:15.87px;font-family:'Liberation Sans', sans-serif;font-weight:bold;color:#c0192e;transform:scaleX(1.0908);transform-origin:0 50%;-webkit-text-stroke:0.3px #c0192e;">**</div>
<div class="t" style="left:261.03px;top:337.80px;font-size:13.37px;font-family:'Liberation Sans', sans-serif;font-weight:bold;color:#0e1122;transform:scaleX(0.9795);transform-origin:0 50%;-webkit-text-stroke:0.3px #0e1122;">BRASIL</div>
<div class="t" style="left:344.72px;top:338.00px;font-size:13.37px;font-family:'Liberation Sans', sans-serif;font-weight:bold;color:#0e1122;transform:scaleX(1.0233);transform-origin:0 50%;-webkit-text-stroke:0.3px #0e1122;">22.212.343</div>
<div class="t" style="left:431.73px;top:338.00px;font-size:13.37px;font-family:'Liberation Sans', sans-serif;font-weight:bold;color:#0e1122;transform:scaleX(1.0147);transform-origin:0 50%;-webkit-text-stroke:0.3px #0e1122;">617.754</div>
<div class="t" style="left:126.26px;top:22.80px;font-size:15.87px;font-family:'DejaVu Sans', sans-serif;font-weight:bold;color:#eefbee;transform:scaleX(1.0482);transform-origin:0 50%;-webkit-text-stroke:0.4px #eefbee;">SITUAÇÃO EPIDEMIOLÓGICA DA COVID-19 NO BRASIL</div>
<div class="t" style="left:626.31px;top:28.20px;font-size:8.17px;font-family:'DejaVu Sans', sans-serif;font-weight:bold;color:#eefbee;transform:scaleX(1.0888);transform-origin:0 50%;-webkit-text-stroke:0.2px #eefbee;">(18/12 às 17h40)</div>
<div class="t" style="left:20.58px;top:17.80px;font-size:8.93px;font-family:'DejaVu Sans', sans-serif;font-weight:bold;color:#262626;transform:scaleX(1.0269);transform-origin:0 50%;-webkit-text-stroke:0.2px #262626;">DISQUE</div>
<div class="t" style="left:20.65px;top:26.60px;font-size:9.33px;font-family:'DejaVu Sans', sans-serif;font-weight:bold;color:#262626;transform:scaleX(1.1071);transform-origin:0 50%;-webkit-text-stroke:0.2px #262626;">SAÚDE</div>
<div class="t" style="left:61.80px;top:16.40px;font-size:22.61px;font-family:'Liberation Sans', sans-serif;font-weight:bold;color:#1d4e9b;transform:scaleX(1.0992);transform-origin:0 50%;-webkit-text-stroke:0.9px #1d4e9b;">136</div>
<div class="t" style="left:8.11px;top:359.00px;font-size:14.43px;font-family:'DejaVu Sans Condensed', 'DejaVu Sans', sans-serif;font-weight:bold;color:#a3121f;transform:scaleX(0.9657);transform-origin:0 50%;-webkit-text-stroke:0.25px #a3121f;"><span style="position:relative;top:-2.2px;line-height:0">*</span> Dados referentes ao dia 09/12/2021</div>
<div class="t" style="left:6.41px;top:379.60px;font-size:14.84px;font-family:'DejaVu Sans Condensed', 'DejaVu Sans', sans-serif;font-weight:bold;color:#a3121f;transform:scaleX(0.9313);transform-origin:0 50%;-webkit-text-stroke:0.25px #a3121f;"><span style="position:relative;top:-2.6px;line-height:0">**</span> Dados referentes ao dia 17/12/2021</div>
<div class="t" style="left:3.02px;top:400.10px;font-size:7.60px;font-family:'DejaVu Sans', sans-serif;font-weight:bold;color:#33413a;transform:scaleX(0.9816);transform-origin:0 50%;">Fonte: Secretarias Estaduais de Saúde;</div>
<div class="t" style="left:3.12px;top:410.20px;font-size:7.47px;font-family:'DejaVu Sans', sans-serif;font-weight:bold;color:#33413a;transform:scaleX(1.0193);transform-origin:0 50%;">Sistema de Informação da Vigilância Epidemiológica da Gripe - dados sujeitos a alterações.</div>
<div class="t" style="left:554.81px;top:74.60px;font-size:21.38px;font-family:'DejaVu Sans', sans-serif;font-weight:bold;color:#15357a;transform:scaleX(0.9215);transform-origin:0 50%;-webkit-text-stroke:0.5px #15357a;">22.212.343</div>
<div class="t" style="left:564.30px;top:100.40px;font-size:8.70px;font-family:'DejaVu Sans', sans-serif;font-weight:normal;color:#646464;transform:scaleX(0.9844);transform-origin:0 50%;">casos confirmados</div>
<div class="t" style="left:697.08px;top:80.80px;font-size:15.50px;font-family:'Liberation Sans', sans-serif;font-weight:bold;color:#9b1b25;transform:scaleX(0.9197);transform-origin:0 50%;-webkit-text-stroke:0.2px #9b1b25;">3.323</div>
<div class="t" style="left:566.48px;top:141.80px;font-size:20.97px;font-family:'DejaVu Sans', sans-serif;font-weight:bold;color:#15357a;transform:scaleX(0.9482);transform-origin:0 50%;-webkit-text-stroke:0.5px #15357a;">118.924</div>
<div class="t" style="left:676.51px;top:151.70px;font-size:8.80px;font-family:'DejaVu Sans', sans-serif;font-weight:bold;color:#1f2f58;transform:scaleX(1.2210);transform-origin:0 50%;-webkit-text-stroke:0.1px #1f2f58;">(0,5%)</div>
<div class="t" style="left:569.00px;top:171.10px;font-size:8.70px;font-family:'DejaVu Sans', sans-serif;font-weight:normal;color:#646464;transform:scaleX(0.9783);transform-origin:0 50%;">em acompanhamento</div>
<div class="t" style="left:558.60px;top:213.10px;font-size:21.38px;font-family:'DejaVu Sans', sans-serif;font-weight:bold;color:#15357a;transform:scaleX(0.9305);transform-origin:0 50%;-webkit-text-stroke:0.5px #15357a;">21.475.665</div>
<div class="t" style="left:690.51px;top:225.20px;font-size:8.00px;font-family:'DejaVu Sans', sans-serif;font-weight:bold;color:#1f2f58;transform:scaleX(1.1810);transform-origin:0 50%;-webkit-text-stroke:0.1px #1f2f58;">(96,7%)</div>
<div class="t" style="left:565.84px;top:242.80px;font-size:8.70px;font-family:'DejaVu Sans', sans-serif;font-weight:normal;color:#646464;transform:scaleX(0.9737);transform-origin:0 50%;">recuperados</div>
<div class="t" style="left:561.62px;top:271.70px;font-size:21.51px;font-family:'DejaVu Sans', sans-serif;font-weight:bold;color:#15357a;transform:scaleX(0.9185);transform-origin:0 50%;-webkit-text-stroke:0.5px #15357a;">617.754</div>
<div class="t" style="left:686.32px;top:273.50px;font-size:14.93px;font-family:'Liberation Sans', sans-serif;font-weight:bold;color:#9b1b25;transform:scaleX(0.9403);transform-origin:0 50%;-webkit-text-stroke:0.2px #9b1b25;">153</div>
<div class="t" style="left:500.01px;top:279.80px;font-size:11.80px;font-family:'Liberation Sans', sans-serif;font-weight:bold;color:#1b1b1b;transform:scaleX(0.9153);transform-origin:0 50%;-webkit-text-stroke:0.3px #1b1b1b;">ÓBITOS</div>
<div class="t" style="left:516.49px;top:336.40px;font-size:8.53px;font-family:'Liberation Sans', sans-serif;font-weight:bold;color:#f6e8ee;transform:scaleX(0.8182);transform-origin:0 50%;">3</div>
<div class="t" style="left:561.68px;top:332.50px;font-size:20.83px;font-family:'DejaVu Sans', sans-serif;font-weight:bold;color:#15357a;transform:scaleX(0.9765);transform-origin:0 50%;-webkit-text-stroke:0.5px #15357a;">77</div>
<div class="t" style="left:673.21px;top:329.70px;font-size:21.24px;font-family:'DejaVu Sans', sans-serif;font-weight:bold;color:#15357a;transform:scaleX(0.9275);transform-origin:0 50%;-webkit-text-stroke:0.5px #15357a;">2.726</div>
<div class="t" style="left:543.49px;top:362.40px;font-size:6.70px;font-family:'DejaVu Sans', sans-serif;font-weight:normal;color:#555555;transform:scaleX(0.9752);transform-origin:0 50%;">Óbitos de SRAG por</div>
<div class="t" style="left:541.59px;top:371.80px;font-size:6.70px;font-family:'DejaVu Sans', sans-serif;font-weight:normal;color:#555555;transform:scaleX(0.9804);transform-origin:0 50%;">covid-19 nos últimos</div>
<div class="t" style="left:566.00px;top:381.50px;font-size:6.70px;font-family:'DejaVu Sans', sans-serif;font-weight:normal;color:#555555;transform:scaleX(0.9620);transform-origin:0 50%;">3 dias</div>
<div class="t" style="left:672.49px;top:359.00px;font-size:6.70px;font-family:'DejaVu Sans', sans-serif;font-weight:normal;color:#555555;transform:scaleX(0.9854);transform-origin:0 50%;">Óbitos de SRAG em</div>
<div class="t" style="left:683.18px;top:367.50px;font-size:6.70px;font-family:'DejaVu Sans', sans-serif;font-weight:normal;color:#555555;transform:scaleX(0.9840);transform-origin:0 50%;">investigação</div>
<div class="t" style="left:613.92px;top:395.00px;font-size:7.25px;font-family:'Liberation Sans', sans-serif;font-weight:bold;color:#1a4898;transform:scaleX(0.7187);transform-origin:0 50%;-webkit-text-stroke:0.2px #1a4898;">SUS</div>
<div class="t" style="left:651.02px;top:398.90px;font-size:3.56px;font-family:'Liberation Sans', sans-serif;font-weight:bold;color:#8a8a8a;transform:scaleX(0.8203);transform-origin:0 50%;">MINISTÉRIO DA</div>
<div class="t" style="left:663.36px;top:402.70px;font-size:3.84px;font-family:'Liberation Sans', sans-serif;font-weight:bold;color:#666666;transform:scaleX(0.7229);transform-origin:0 50%;">SAÚDE</div>
<div class="t" style="left:699.66px;top:392.10px;font-size:3.98px;font-family:'Liberation Sans', sans-serif;font-weight:bold;color:#3c5a55;transform:scaleX(0.9663);transform-origin:0 50%;">PÁTRIA AMADA</div>
<div class="t" style="left:699.40px;top:395.80px;font-size:7.82px;font-family:'Liberation Sans', sans-serif;font-weight:bold;color:#4d5b66;transform:scaleX(1.0318);transform-origin:0 50%;">BRASIL</div>
<div class="t" style="left:700.06px;top:403.70px;font-size:2.56px;font-family:'Liberation Sans', sans-serif;font-weight:normal;color:#a8b4a8;transform:scaleX(1.1329);transform-origin:0 50%;">GOVERNO FEDERAL</div>
</div></body></html>
